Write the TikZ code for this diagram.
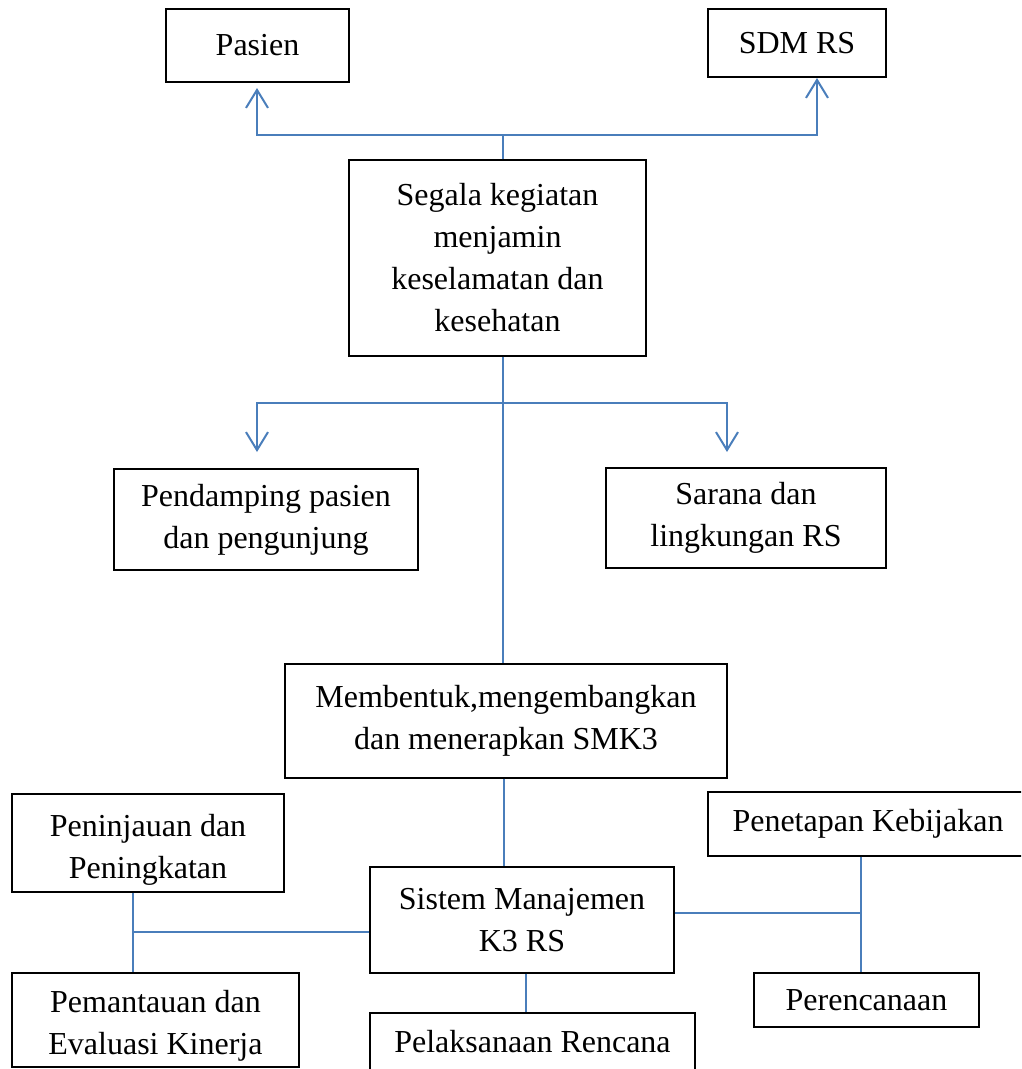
\documentclass[tikz,border=0pt]{standalone}
\usepackage{fontspec}
\setmainfont{Liberation Serif}
\usetikzlibrary{arrows.meta,calc}
\definecolor{connblue}{HTML}{4A7EBB}
\tikzset{
  box/.style={draw=black, line width=1.4pt, fill=white, inner sep=0pt, align=center,
    font=\fontsize{32}{42}\selectfont},
  boxtext/.style={align=center, font=\fontsize{32}{42}\selectfont, inner sep=0pt},
  conn/.style={draw=connblue, line width=2pt},
  arr/.style={conn, -{Straight Barb[length=18pt,width=22pt,line width=2pt]}},
}
\begin{document}
\begin{tikzpicture}[x=1pt,y=-1pt]
\clip (0,0) rectangle (1021,1069);
\fill[white] (0,0) rectangle (1021,1069);
\node[box, minimum width=183, minimum height=73] (pasien) at (257.5,45.5) {Pasien};
\node[box, minimum width=178, minimum height=68] (sdm) at (797,43) {SDM RS};
\node[box, minimum width=297, minimum height=196] (seg) at (497.5,258) {Segala kegiatan\\menjamin\\keselamatan dan\\kesehatan};
\node[box, minimum width=304, minimum height=101] (pend) at (266,519.5) {Pendamping pasien\\dan pengunjung};
\node[box, minimum width=280, minimum height=100] (sar) at (746,518) {Sarana dan\\lingkungan RS};
\node[box, minimum width=442, minimum height=114] (mem) at (506,721) {Membentuk,mengembangkan\\dan menerapkan SMK3};
\node[box, minimum width=272, minimum height=98,
  label={[boxtext, yshift=-7pt]center:Peninjauan dan\\Peningkatan}] (peni) at (148,843) {};
\node[box, minimum width=304, minimum height=106] (sis) at (522,920) {Sistem Manajemen\\K3 RS};
\node[box, minimum width=320, minimum height=64] (pene) at (868,824) {Penetapan Kebijakan};
\node[box, minimum width=287, minimum height=94,
  label={[boxtext, yshift=-6pt]center:Pemantauan dan\\Evaluasi Kinerja}] (pema) at (155.5,1020) {};
\node[box, minimum width=225, minimum height=54] (pere) at (866.5,1000) {Perencanaan};
\node[box, minimum width=325, minimum height=58] (pela) at (532.5,1042) {Pelaksanaan Rencana};
% junction coordinates
\coordinate (jt) at (503,135);
\coordinate (pasin) at (257,82);
\coordinate (sdmin) at (817,77);
\coordinate (jm) at (503,403);
\coordinate (pendin) at (257,469);
\coordinate (sarin) at (727,468);
\coordinate (jl) at (133,932);
\coordinate (jr) at (861,913);
% top connectors
\draw[conn] (seg.north -| jt) -- (jt);
\draw[arr, shorten >=6pt] (jt) -| (pasin);
\draw[arr, shorten >=1pt] (jt) -| (sdmin);
% middle connectors
\draw[conn] (seg.south -| jm) -- (mem.north -| jm);
\draw[arr, shorten >=17pt] (jm) -| (pendin);
\draw[arr, shorten >=16pt] (jm) -| (sarin);
% lower connectors
\draw[conn] (mem.south -| 504,0) -- (sis.north -| 504,0);
\draw[conn] (sis.west |- jl) -- (jl);
\draw[conn] (peni.south -| jl) -- (pema.north -| jl);
\draw[conn] (sis.east |- jr) -- (jr);
\draw[conn] (pene.south -| jr) -- (pere.north -| jr);
\draw[conn] (sis.south -| 526,0) -- (pela.north -| 526,0);
\end{tikzpicture}
\end{document}
